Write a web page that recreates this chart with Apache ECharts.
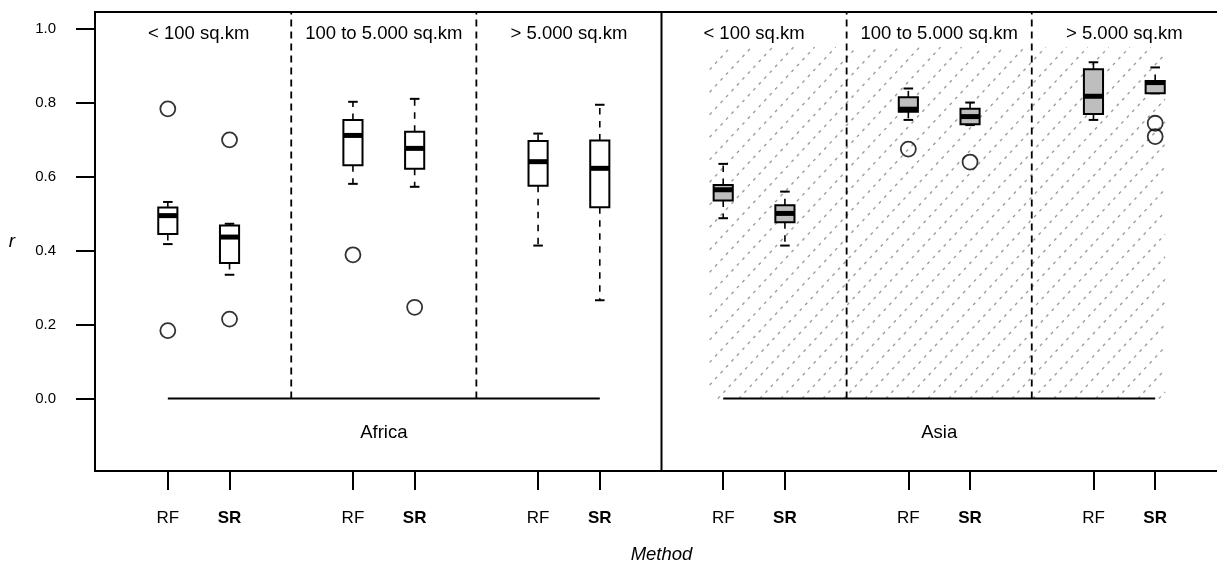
<!DOCTYPE html>
<html><head><meta charset="utf-8">
<script src="https://cdn.jsdelivr.net/npm/echarts@6/dist/echarts.min.js"></script>
<style>html,body{margin:0;padding:0;background:#fff}#c{width:1217px;height:562px}</style>
</head><body><div id="c"></div>
<script>
// ---- data ----
const sizeClasses = ['< 100 sq.km', '100 to 5.000 sq.km', '> 5.000 sq.km'];
const regions = ['Africa', 'Asia'];
const methods = ['RF', 'SR'];
const yTicks = [0, 0.2, 0.4, 0.6, 0.8, 1.0];
// box stats per size class: [lower whisker, Q1, median, Q3, upper whisker]
const africaRF = [[0.418, 0.445, 0.495, 0.517, 0.532], [0.581, 0.631, 0.712, 0.754, 0.803], [0.414, 0.576, 0.641, 0.697, 0.717]];
const africaSR = [[0.335, 0.367, 0.437, 0.468, 0.473], [0.573, 0.622, 0.677, 0.722, 0.811], [0.266, 0.518, 0.623, 0.698, 0.795]];
const asiaRF   = [[0.488, 0.536, 0.565, 0.578, 0.635], [0.754, 0.776, 0.783, 0.815, 0.839], [0.754, 0.770, 0.818, 0.891, 0.910]];
const asiaSR   = [[0.414, 0.477, 0.501, 0.523, 0.560], [0.740, 0.742, 0.763, 0.784, 0.801], [0.826, 0.826, 0.855, 0.859, 0.896]];
// outliers per size class
const africaRFOut = [[0.784, 0.184], [0.389], []];
const africaSROut = [[0.700, 0.215], [0.247], []];
const asiaRFOut   = [[], [0.675], []];
const asiaSROut   = [[], [0.640], [0.745, 0.709]];
// shaded (hatched) panel extent for Asia: [x0, x1, y0, y1]
const hatchArea = [9.78, 17.16, 0, 0.951];

// ---- layout helpers ----
const FONT = '"Liberation Sans", Arial, Helvetica, sans-serif';
const Y_MIN = -0.196, Y_MAX = 1.046, X_MIN = -0.18, X_MAX = 18.18;
function xPos(r, g, m) { return r * 9 + g * 3 + m + 1; }

const stats = [[africaRF, africaSR], [asiaRF, asiaSR]];
const outs = [[africaRFOut, africaSROut], [asiaRFOut, asiaSROut]];
const boxData = [], outData = [], xTickVals = [], xTickNames = [];
const titleData = [], titleTexts = [];
const regionData = [], regionTexts = [];
const lineData = []; // [x1,y1,x2,y2,type] type 0 dashed, 1 solid
for (let r = 0; r < regions.length; r++) {
  for (let g = 0; g < sizeClasses.length; g++) {
    for (let m = 0; m < methods.length; m++) {
      const x = xPos(r, g, m);
      const s = stats[r][m][g];
      boxData.push([x, s[0], s[1], s[2], s[3], s[4], r]);
      outs[r][m][g].forEach(v => outData.push([x, v]));
      xTickVals.push(x); xTickNames.push(methods[m]);
    }
    titleData.push([xPos(r, g, 0) + 0.5, 0.986]); titleTexts.push(sizeClasses[g]);
    if (g > 0) lineData.push([r * 9 + g * 3, 0, r * 9 + g * 3, Y_MAX, 0]);
  }
  regionData.push([r * 9 + 4.5, -0.092]); regionTexts.push(regions[r]);
  lineData.push([xPos(r, 0, 0), 0, xPos(r, 2, 1), 0, 1]);
  if (r > 0) lineData.push([r * 9, Y_MIN, r * 9, Y_MAX, 1]);
}

const chart = echarts.init(document.getElementById('c'), null, { renderer: 'canvas' });
chart.setOption({
  animation: false,
  backgroundColor: '#fff',
  textStyle: { fontFamily: FONT },
  grid: { left: 95, top: 12, width: 1133, height: 459, outerBoundsMode: 'none', containLabel: false, show: true, borderColor: '#000', borderWidth: 2, backgroundColor: 'transparent' },
  xAxis: {
    type: 'value', min: X_MIN, max: X_MAX, position: 'bottom',
    name: 'Method', nameLocation: 'middle', nameGap: 74,
    nameTextStyle: { fontFamily: FONT, fontSize: 18.5, fontStyle: 'italic', color: '#000' },
    axisLine: { show: false, onZero: false }, splitLine: { show: false },
    axisTick: { show: true, customValues: xTickVals, length: 19, lineStyle: { color: '#000', width: 2 } },
    axisLabel: {
      customValues: xTickVals, margin: 39, color: '#000', fontFamily: FONT,
      formatter: v => { const i = xTickVals.indexOf(v); const n = xTickNames[i]; return n === 'SR' ? '{b|' + n + '}' : '{n|' + n + '}'; },
      rich: { n: { fontSize: 17, fontFamily: FONT, color: '#000' }, b: { fontSize: 17, fontWeight: 'bold', fontFamily: FONT, color: '#000' } }
    }
  },
  yAxis: {
    type: 'value', min: Y_MIN, max: Y_MAX, position: 'left',
    name: 'r', nameLocation: 'middle', nameGap: 80, nameRotate: 0,
    nameTextStyle: { fontFamily: FONT, fontSize: 19, fontStyle: 'italic', color: '#000', padding: [4, 0, 0, 0] },
    axisLine: { show: false, onZero: false }, splitLine: { show: false },
    axisTick: { show: true, customValues: yTicks, length: 19, lineStyle: { color: '#000', width: 2 } },
    axisLabel: { customValues: yTicks, margin: 39, color: '#000', fontSize: 15, fontFamily: FONT, formatter: v => v.toFixed(1) }
  },
  series: [
    { // hatch
      type: 'custom', z: 1, silent: true, clip: false,
      data: [hatchArea],
      renderItem: (params, api) => {
        const p0 = api.coord([api.value(0), api.value(3)]);
        const p1 = api.coord([api.value(1), api.value(2)]);
        const X = p0[0], Y = p0[1], W = p1[0] - p0[0], H = p1[1] - p0[1];
        const ang = 47 * Math.PI / 180, dx = H / Math.tan(ang), step = 21;
        const children = [];
        for (let u = X - dx; u < X + W; u += step) {
          let xa = u, ya = Y + H, xb = u + dx, yb = Y;
          const slope = (yb - ya) / (xb - xa);
          if (xa < X) { ya = ya + (X - xa) * slope; xa = X; }
          if (xb > X + W) { yb = ya + (X + W - xa) * slope; xb = X + W; }
          if (xb <= xa) continue;
          children.push({ type: 'line', shape: { x1: xa, y1: ya, x2: xb, y2: yb }, style: { stroke: '#9e9e9e', lineWidth: 1.4, lineDash: [3, 5] } });
        }
        return { type: 'group', children };
      }
    },
    { // separators and baselines
      type: 'custom', z: 2, silent: true, clip: false,
      data: lineData,
      renderItem: (params, api) => {
        const a = api.coord([api.value(0), api.value(1)]);
        const b = api.coord([api.value(2), api.value(3)]);
        const dashed = api.value(4) === 0;
        return { type: 'line', shape: { x1: a[0], y1: a[1], x2: b[0], y2: b[1] }, style: { stroke: '#000', lineWidth: dashed ? 1.8 : 2, lineDash: dashed ? [7, 5] : null } };
      }
    },
    { // boxes
      type: 'custom', z: 3, silent: true, clip: false,
      data: boxData,
      renderItem: (params, api) => {
        const x = api.value(0);
        const lw = api.coord([x, api.value(1)]), q1 = api.coord([x, api.value(2)]), md = api.coord([x, api.value(3)]);
        const q3 = api.coord([x, api.value(4)]), uw = api.coord([x, api.value(5)]);
        const half = api.size([0.31, 0])[0] / 2, cap = half / 2, cx = lw[0];
        const fill = api.value(6) === 1 ? '#BEBEBE' : '#ffffff';
        const wh = { stroke: '#000', lineWidth: 1.6, lineDash: [6.5, 6.5] };
        const solid = { stroke: '#000', lineWidth: 2 };
        return { type: 'group', children: [
          { type: 'line', shape: { x1: cx, y1: q3[1], x2: cx, y2: uw[1] }, style: wh },
          { type: 'line', shape: { x1: cx, y1: q1[1], x2: cx, y2: lw[1] }, style: wh },
          { type: 'line', shape: { x1: cx - cap, y1: uw[1], x2: cx + cap, y2: uw[1] }, style: solid },
          { type: 'line', shape: { x1: cx - cap, y1: lw[1], x2: cx + cap, y2: lw[1] }, style: solid },
          { type: 'rect', shape: { x: cx - half, y: q3[1], width: 2 * half, height: q1[1] - q3[1] }, style: { fill, stroke: '#000', lineWidth: 2 } },
          { type: 'line', shape: { x1: cx - half, y1: md[1], x2: cx + half, y2: md[1] }, style: { stroke: '#000', lineWidth: 5 } }
        ] };
      }
    },
    { // outliers
      type: 'scatter', z: 4, silent: true,
      data: outData, symbol: 'circle', symbolSize: 15,
      itemStyle: { color: 'rgba(0,0,0,0)', borderColor: '#000', borderWidth: 1.8 }
    },
    { // size-class titles
      type: 'custom', z: 5, silent: true, clip: false,
      data: titleData,
      renderItem: (params, api) => {
        const p = api.coord([api.value(0), api.value(1)]);
        return { type: 'text', x: p[0], y: p[1], style: { text: titleTexts[params.dataIndex], font: '18.5px ' + FONT, fill: '#000', align: 'center', verticalAlign: 'middle' } };
      }
    },
    { // region names
      type: 'custom', z: 5, silent: true, clip: false,
      data: regionData,
      renderItem: (params, api) => {
        const p = api.coord([api.value(0), api.value(1)]);
        return { type: 'text', x: p[0], y: p[1], style: { text: regionTexts[params.dataIndex], font: '18.5px ' + FONT, fill: '#000', align: 'center', verticalAlign: 'middle' } };
      }
    }
  ]
});
</script></body></html>
